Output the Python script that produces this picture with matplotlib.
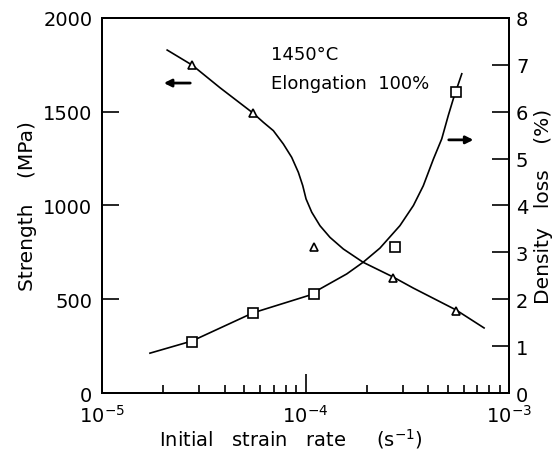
import matplotlib
matplotlib.use("Agg")
import matplotlib.pyplot as plt

# measured points
rate_pts = [2.77e-5, 5.5e-5, 1.1e-4, 2.69e-4, 5.5e-4]
strength_pts = [1749, 1493, 779, 613, 437]
dens_rate_pts = [2.77e-5, 5.5e-5, 1.1e-4, 2.75e-4, 5.5e-4]
density_pts = [1.09, 1.71, 2.11, 3.11, 6.42]

# hand-drawn fitted curves
strength_curve_x = [2.09e-5, 2.77e-5, 3.8e-5, 5.52e-5, 6.2e-5, 6.95e-5, 7.78e-5, 8.55e-5,
                    9.22e-5, 9.69e-5, 1.006e-4, 1.073e-4, 1.178e-4, 1.319e-4, 1.534e-4,
                    1.92e-4, 2.69e-4, 3.38e-4, 5.49e-4, 7.54e-4]
strength_curve_y = [1829, 1749, 1628, 1493, 1444, 1399, 1328, 1257,
                    1177, 1106, 1035, 964, 892, 830, 768,
                    697, 619, 560, 443, 347]
density_curve_x = [1.72e-5, 2.77e-5, 5.52e-5, 1.09e-4, 1.178e-4, 1.594e-4, 1.92e-4,
                   2.32e-4, 2.91e-4, 3.39e-4, 3.79e-4, 4.25e-4, 4.67e-4, 5.03e-4,
                   5.32e-4, 5.86e-4]
density_curve_y = [0.85, 1.11, 1.71, 2.11, 2.22, 2.54, 2.79,
                   3.09, 3.57, 4.00, 4.42, 4.99, 5.42, 5.92,
                   6.27, 6.81]

fig = plt.figure(figsize=(5.56, 4.52), dpi=100)
ax = fig.add_axes([0.1835, 0.1283, 0.732, 0.8297])
ax2 = ax.twinx()

ax.plot(strength_curve_x, strength_curve_y, color="black", lw=1.2, zorder=2)
ax.plot(rate_pts, strength_pts, linestyle="none", marker="^", ms=6,
        mfc="white", mec="black", mew=1.2, zorder=3)
ax2.plot(density_curve_x, density_curve_y, color="black", lw=1.2, zorder=2)
ax2.plot(dens_rate_pts, density_pts, linestyle="none", marker="s", ms=7,
         mfc="white", mec="black", mew=1.2, zorder=3)

ax.set_xscale("log")
ax.set_xlim(1e-5, 1e-3)
ax.set_ylim(0, 2000)
ax2.set_ylim(0, 8)

ax.set_xticks([1e-5, 1e-4, 1e-3])
ax.set_xticklabels([r"$10^{-5}$", r"$10^{-4}$", r"$10^{-3}$"])
ax.set_yticks([0, 500, 1000, 1500, 2000])
ax2.set_yticks(range(9))

ax.tick_params(axis="x", which="major", direction="in", length=14, width=1.2,
               labelsize=14, pad=8, top=False)
ax.tick_params(axis="x", which="minor", direction="in", length=6, width=1.2, top=False)
ax.tick_params(axis="y", direction="in", length=12, width=1.2, labelsize=14, pad=7)
ax2.tick_params(axis="y", direction="in", length=12, width=1.2, labelsize=14, pad=5)

for a in (ax, ax2):
    for s in a.spines.values():
        s.set_linewidth(1.4)

ax.set_xlabel("Initial   strain   rate     (s$^{-1}$)", fontsize=14)
ax.xaxis.set_label_coords(0.465, -0.088)
ax.set_ylabel("Strength    (MPa)", fontsize=14.5, labelpad=4)
ax2.set_ylabel("Density   loss    (%)", fontsize=14.5, labelpad=4)

ax.text(0.415, 0.905, "1450°C", transform=ax.transAxes, fontsize=13, va="center")
ax.text(0.415, 0.827, "Elongation  100%", transform=ax.transAxes, fontsize=13, va="center")

# arrows pointing to the relevant axis
ax.annotate("", xy=(1.95e-5, 1653), xytext=(2.8e-5, 1653),
            arrowprops=dict(arrowstyle="-|>", color="black", lw=2, mutation_scale=11))
ax2.annotate("", xy=(6.9e-4, 5.4), xytext=(4.9e-4, 5.4),
             arrowprops=dict(arrowstyle="-|>", color="black", lw=2, mutation_scale=11))

plt.savefig("out.png", dpi=100)
